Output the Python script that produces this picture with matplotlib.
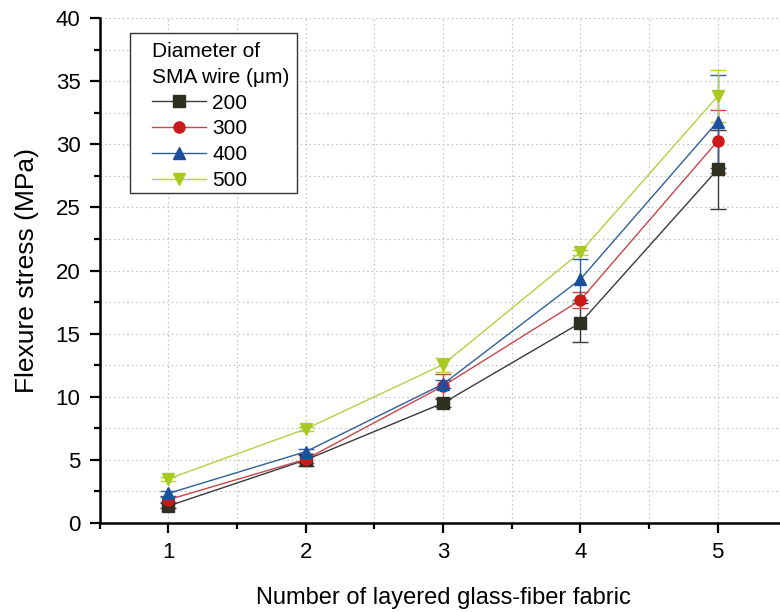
import matplotlib.pyplot as plt
from matplotlib.lines import Line2D
from matplotlib.patches import Rectangle
from matplotlib.ticker import MultipleLocator

plt.rcParams['font.family'] = ['Liberation Sans', 'DejaVu Sans']

layers = [1, 2, 3, 4, 5]
diameters = ['200', '300', '400', '500']

stress_200 = [1.35, 5.0, 9.5, 15.85, 28.0]
stress_300 = [1.85, 5.05, 10.85, 17.65, 30.25]
stress_400 = [2.35, 5.65, 11.0, 19.3, 31.8]
stress_500 = [3.5, 7.45, 12.55, 21.45, 33.8]

err_200 = [0.2, 0.45, 0.3, 1.55, 3.15]
err_300 = [0.2, 0.3, 0.95, 0.65, 2.5]
err_400 = [0.2, 0.2, 0.3, 1.6, 3.7]
err_500 = [0.15, 0.15, 0.55, 0.2, 2.05]

series = [stress_200, stress_300, stress_400, stress_500]
errors = [err_200, err_300, err_400, err_500]
colors = ['#2f2f22', '#cc1a1a', '#1c4f9e', '#a9c820']
line_colors = ['#3a3a3a', '#c8464a', '#2f5f9a', '#b5d040']
markers = ['s', 'o', '^', 'v']

W, H = 780, 612
fig = plt.figure(figsize=(W / 100, H / 100), dpi=100)
ax = fig.add_axes([0.128, 0.1454, 0.880, 0.8252])

handles = []
for y, e, c, lc, m, d in zip(series, errors, colors, line_colors, markers, diameters):
    ax.errorbar(layers, y, yerr=e, color=lc, ecolor=lc, lw=1, elinewidth=1,
                capsize=6, capthick=1, marker=m, ms=8, mfc=c, mec=c)
    handles.append(Line2D([], [], color=lc, lw=1, marker=m, ms=8, mfc=c, mec=c, label=d))

ax.set_xlim(0.5, 5.5)
ax.set_ylim(0, 40)
ax.xaxis.set_major_locator(MultipleLocator(1))
ax.xaxis.set_minor_locator(MultipleLocator(0.5))
ax.yaxis.set_major_locator(MultipleLocator(5))
ax.yaxis.set_minor_locator(MultipleLocator(2.5))

ax.grid(True, which='both', ls=(0, (1.5, 2.5)), lw=0.8, color='#c4c4c4')
ax.set_axisbelow(True)

for side in ['top', 'right']:
    ax.spines[side].set_visible(False)
for side in ['left', 'bottom']:
    ax.spines[side].set_linewidth(1.8)

ax.tick_params(which='major', direction='out', length=7, width=1.6, labelsize=16, pad=7)
ax.tick_params(which='minor', direction='out', length=4, width=1.6)

ax.set_xlabel('Number of layered glass-fiber fabric', fontsize=17, labelpad=17)
ax.set_ylabel('Flexure stress (MPa)', fontsize=19, labelpad=12)

# legend box drawn separately so the entries can sit off-centre inside it
box = Rectangle((130 / W, 1 - 193 / H), 167 / W, 160 / H, transform=fig.transFigure,
                facecolor='white', edgecolor='#333333', lw=1.0, zorder=4, clip_on=False)
ax.add_patch(box)

leg = ax.legend(handles=handles, title='Diameter of\nSMA wire (μm)', loc='upper left',
                bbox_to_anchor=(152 / W, 1 - 42 / H), bbox_transform=fig.transFigure,
                fontsize=15, title_fontsize=15, frameon=False,
                handlelength=2.6, handletextpad=0.3, labelspacing=0.33,
                borderpad=0, borderaxespad=0)
leg._legend_box.align = 'left'
leg.get_title().set_linespacing(1.45)
leg.set_zorder(5)

fig.savefig('out.png', dpi=100)
